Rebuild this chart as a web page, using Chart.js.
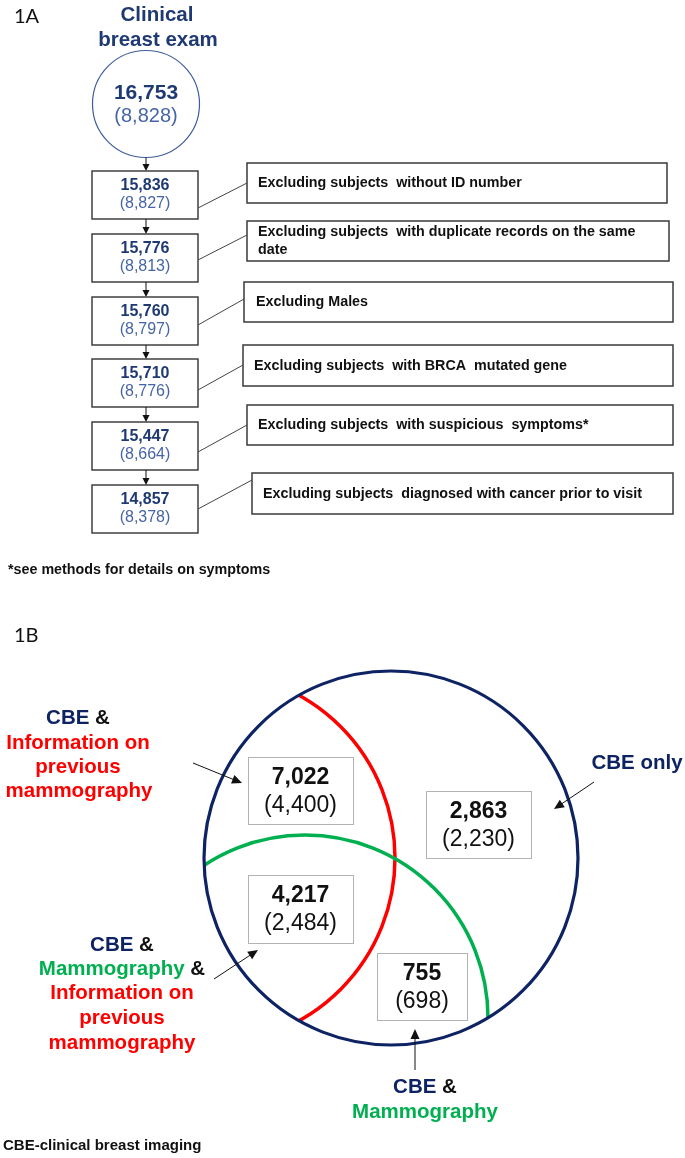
<!DOCTYPE html>
<html>
<head>
<meta charset="utf-8">
<script src="https://cdn.jsdelivr.net/npm/chart.js@4.4.1/dist/chart.umd.min.js"></script>
<style>
  html, body { margin: 0; padding: 0; background: #fff; }
  #wrap { width: 685px; height: 1158px; }
</style>
</head>
<body>
<div id="wrap"><canvas id="fig" width="685" height="1158"></canvas></div>
<script>
// --- Figure 1A: flow of subjects ---
const flowTotals = [16753, 15836, 15776, 15760, 15710, 15447, 14857];
const flowSecondary = [8828, 8827, 8813, 8797, 8776, 8664, 8378];
const exclusionLabels = [
    ['Excluding subjects  without ID number'],
    ['Excluding subjects  with duplicate records on the same', 'date'],
    ['Excluding Males'],
    ['Excluding subjects  with BRCA  mutated gene'],
    ['Excluding subjects  with suspicious  symptoms*'],
    ['Excluding subjects  diagnosed with cancer prior to visit']
];

// --- Figure 1B: overlap of data sources ---
const vennRegions = ['CBE & Information', 'CBE only', 'CBE & Mammography & Information', 'CBE & Mammography'];
const vennTotals = [7022, 2863, 4217, 755];
const vennSecondary = [4400, 2230, 2484, 698];

const NAVY = '#1f3a73';
const NAVY_LIGHT = '#4765a6';
const VENN_NAVY = '#0e2363';
const RED = '#ff0000';
const GREEN = '#00b050';
const SANS = '"Liberation Sans", Arial, sans-serif';

const fmt = n => n.toLocaleString('en-US');

function arrow(ctx, x1, y1, x2, y2, len, half) {
    const a = Math.atan2(y2 - y1, x2 - x1);
    ctx.beginPath();
    ctx.moveTo(x1, y1);
    ctx.lineTo(x2 - Math.cos(a) * len * 0.8, y2 - Math.sin(a) * len * 0.8);
    ctx.stroke();
    ctx.beginPath();
    ctx.moveTo(x2, y2);
    ctx.lineTo(x2 - Math.cos(a) * len + Math.sin(a) * half, y2 - Math.sin(a) * len - Math.cos(a) * half);
    ctx.lineTo(x2 - Math.cos(a) * len - Math.sin(a) * half, y2 - Math.sin(a) * len + Math.cos(a) * half);
    ctx.closePath();
    ctx.fill();
}

// mixed-colour line, centred on cx
function richLine(ctx, parts, cx, y) {
    const total = parts.reduce((s, p) => s + ctx.measureText(p[0]).width, 0);
    let x = cx - total / 2;
    ctx.textAlign = 'left';
    parts.forEach(p => {
        ctx.fillStyle = p[1];
        ctx.fillText(p[0], x, y);
        x += ctx.measureText(p[0]).width;
    });
}

const diagram = {
    id: 'diagram',
    afterDraw(chart) {
        const ctx = chart.ctx;
        const X = v => chart.scales.x.getPixelForValue(v);
        const Y = v => chart.scales.y.getPixelForValue(v);
        ctx.save();
        ctx.textBaseline = 'middle';

        // panel letters
        ctx.fillStyle = '#111';
        ctx.font = '20px Lato, "Open Sans", sans-serif';
        ctx.textAlign = 'left';
        ctx.fillText('1A', X(14), Y(17));
        ctx.fillText('1B', X(14), Y(636));

        // ---- 1A ----
        ctx.fillStyle = NAVY;
        ctx.textAlign = 'center';
        ctx.font = 'bold 20.5px ' + SANS;
        ctx.fillText('Clinical', X(157), Y(15));
        ctx.fillText('breast exam', X(158), Y(40));

        const cx = 146, cy = 104, cr = 53.5;
        ctx.strokeStyle = '#3d5c9c';
        ctx.lineWidth = 1.2;
        ctx.beginPath();
        ctx.arc(X(cx), Y(cy), cr, 0, Math.PI * 2);
        ctx.stroke();
        ctx.font = 'bold 21px ' + SANS;
        ctx.fillText(fmt(flowTotals[0]), X(cx), Y(93));
        ctx.fillStyle = NAVY_LIGHT;
        ctx.font = '20px ' + SANS;
        ctx.fillText('(' + fmt(flowSecondary[0]) + ')', X(cx), Y(116));

        const boxTops = [171, 234, 297, 359, 422, 485];
        const boxX = 92, boxW = 106, boxH = 48;
        const excl = [
            { x: 247, y: 163, w: 420, h: 40, tx: 258, ty: [183], ay: 183, by: 208 },
            { x: 247, y: 221, w: 422, h: 40, tx: 258, ty: [232, 250], ay: 235, by: 260 },
            { x: 244, y: 282, w: 429, h: 40, tx: 256, ty: [302], ay: 299, by: 325 },
            { x: 243, y: 345, w: 430, h: 41, tx: 254, ty: [366], ay: 365, by: 390 },
            { x: 247, y: 405, w: 426, h: 40, tx: 258, ty: [425], ay: 425, by: 452 },
            { x: 252, y: 473, w: 421, h: 41, tx: 263, ty: [494], ay: 480, by: 509 }
        ];

        ctx.lineWidth = 1;
        ctx.strokeStyle = '#111';
        ctx.fillStyle = '#111';
        arrow(ctx, X(146), Y(cy + cr), X(146), Y(boxTops[0]), 7, 3.5);

        boxTops.forEach((top, i) => {
            // flow box
            ctx.strokeStyle = '#333';
            ctx.lineWidth = 1.4;
            ctx.strokeRect(X(boxX), Y(top), boxW, boxH);
            ctx.textAlign = 'center';
            ctx.fillStyle = NAVY;
            ctx.font = 'bold 16px ' + SANS;
            ctx.fillText(fmt(flowTotals[i + 1]), X(boxX + boxW / 2), Y(top + 15));
            ctx.fillStyle = NAVY_LIGHT;
            ctx.font = '16px ' + SANS;
            ctx.fillText('(' + fmt(flowSecondary[i + 1]) + ')', X(boxX + boxW / 2), Y(top + 33));

            // arrow to next box
            if (i < boxTops.length - 1) {
                ctx.strokeStyle = '#111';
                ctx.fillStyle = '#111';
                ctx.lineWidth = 1;
                arrow(ctx, X(146), Y(top + boxH), X(146), Y(boxTops[i + 1]), 7, 3.5);
            }

            // exclusion box + connector
            const e = excl[i];
            ctx.strokeStyle = '#3a3a3a';
            ctx.lineWidth = 1.5;
            ctx.strokeRect(X(e.x), Y(e.y), e.w, e.h);
            ctx.strokeStyle = '#444';
            ctx.lineWidth = 1;
            ctx.beginPath();
            ctx.moveTo(X(boxX + boxW), Y(e.by));
            ctx.lineTo(X(e.x), Y(e.ay));
            ctx.stroke();
            ctx.fillStyle = '#111';
            ctx.textAlign = 'left';
            ctx.font = 'bold 14.3px ' + SANS;
            exclusionLabels[i].forEach((line, k) => ctx.fillText(line, X(e.tx), Y(e.ty[k])));
        });

        ctx.fillStyle = '#111';
        ctx.font = 'bold 14.3px ' + SANS;
        ctx.textAlign = 'left';
        ctx.fillText('*see methods for details on symptoms', X(8), Y(570));

        // ---- 1B ----
        const vx = 391, vy = 858, vr = 187;
        ctx.save();
        ctx.beginPath();
        ctx.arc(X(vx), Y(vy), vr, 0, Math.PI * 2);
        ctx.clip();
        ctx.lineWidth = 3.5;
        ctx.strokeStyle = RED;
        ctx.beginPath();
        ctx.arc(X(209), Y(858), 186, 0, Math.PI * 2);
        ctx.stroke();
        ctx.strokeStyle = GREEN;
        ctx.beginPath();
        ctx.arc(X(305), Y(1018), 183, 0, Math.PI * 2);
        ctx.stroke();
        ctx.restore();

        ctx.strokeStyle = VENN_NAVY;
        ctx.lineWidth = 3.2;
        ctx.beginPath();
        ctx.arc(X(vx), Y(vy), vr, 0, Math.PI * 2);
        ctx.stroke();

        const vboxes = [
            { x: 248, y: 757, w: 105, h: 67 },
            { x: 426, y: 791, w: 105, h: 67 },
            { x: 248, y: 875, w: 105, h: 68 },
            { x: 377, y: 953, w: 90, h: 67 }
        ];
        vboxes.forEach((b, i) => {
            ctx.fillStyle = '#fff';
            ctx.fillRect(X(b.x), Y(b.y), b.w, b.h);
            ctx.strokeStyle = '#666';
            ctx.lineWidth = 1;
            ctx.setLineDash([1, 1]);
            ctx.strokeRect(X(b.x) + 0.5, Y(b.y) + 0.5, b.w, b.h);
            ctx.setLineDash([]);
            ctx.fillStyle = '#111';
            ctx.textAlign = 'center';
            ctx.font = 'bold 23px ' + SANS;
            ctx.fillText(fmt(vennTotals[i]), X(b.x + b.w / 2), Y(b.y + 21));
            ctx.font = '23px ' + SANS;
            ctx.fillText('(' + fmt(vennSecondary[i]) + ')', X(b.x + b.w / 2), Y(b.y + 49));
        });

        // region labels
        ctx.font = 'bold 20.5px ' + SANS;
        const AMP = '#111';
        richLine(ctx, [['CBE', VENN_NAVY], [' &', AMP]], X(78), Y(718));
        richLine(ctx, [['Information on', RED]], X(78), Y(743));
        richLine(ctx, [['previous', RED]], X(78), Y(767));
        richLine(ctx, [['mammography', RED]], X(79), Y(791));

        richLine(ctx, [['CBE only', VENN_NAVY]], X(637), Y(763));

        richLine(ctx, [['CBE', VENN_NAVY], [' &', AMP]], X(122), Y(945));
        richLine(ctx, [['Mammography', GREEN], [' &', AMP]], X(122), Y(969));
        richLine(ctx, [['Information on', RED]], X(122), Y(993));
        richLine(ctx, [['previous', RED]], X(122), Y(1018));
        richLine(ctx, [['mammography', RED]], X(122), Y(1043));

        richLine(ctx, [['CBE', VENN_NAVY], [' &', AMP]], X(425), Y(1087));
        richLine(ctx, [['Mammography', GREEN]], X(425), Y(1112));

        ctx.strokeStyle = '#111';
        ctx.fillStyle = '#111';
        ctx.lineWidth = 1;
        arrow(ctx, X(193), Y(763), X(242), Y(783), 10, 4.5);
        arrow(ctx, X(594), Y(782), X(554), Y(809), 10, 4.5);
        arrow(ctx, X(214), Y(979), X(258), Y(950), 10, 4.5);
        arrow(ctx, X(415), Y(1070), X(415), Y(1029), 10, 4.5);

        ctx.fillStyle = '#111';
        ctx.textAlign = 'left';
        ctx.font = 'bold 15px ' + SANS;
        ctx.fillText('CBE-clinical breast imaging', X(3), Y(1146));

        ctx.restore();
    }
};

new Chart(document.getElementById('fig'), {
    type: 'scatter',
    data: { datasets: [{ label: vennRegions.join(' / '), data: [], pointRadius: 0 }] },
    options: {
        responsive: false,
        animation: false,
        devicePixelRatio: 1,
        layout: { padding: 0 },
        plugins: { legend: { display: false }, tooltip: { enabled: false } },
        scales: {
            x: { type: 'linear', min: 0, max: 685, display: false },
            y: { type: 'linear', min: 0, max: 1158, reverse: true, display: false }
        }
    },
    plugins: [diagram]
});
</script>
</body>
</html>
